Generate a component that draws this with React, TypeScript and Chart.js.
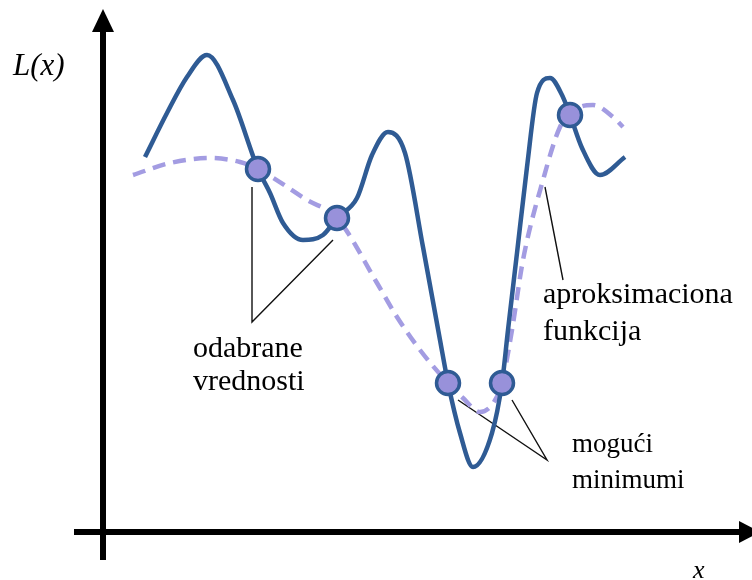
import React, { useEffect, useRef } from "react";
import { Chart, registerables } from "chart.js";

Chart.register(...registerables);

// Objective function L(x): sampled points (x, L) with origin at the axis crossing
const lossX = [42, 64, 84, 104, 130, 155, 167, 180, 200, 220, 234, 254, 269, 285, 302, 320, 337, 345, 357, 370, 389, 399, 405, 414, 424, 434, 447, 459, 467, 479, 497, 522];
const lossY = [375, 419, 455, 477, 432, 363, 339, 309, 292, 297, 314, 334, 377, 400, 379, 285, 192, 149, 99, 65, 99, 149, 202, 279, 365, 439, 454, 437, 417, 384, 357, 375];

// Approximating (surrogate) function
const approxX = [30, 67, 107, 137, 155, 204, 234, 274, 294, 317, 345, 360, 377, 391, 399, 409, 420, 440, 457, 467, 477, 490, 510, 520];
const approxY = [357, 369, 374, 370, 363, 332, 314, 249, 215, 182, 149, 134, 120, 130, 149, 202, 272, 352, 405, 417, 425, 427, 415, 405];

// Selected sample values
const sampleX = [155, 234, 345, 399, 467];
const sampleY = [363, 314, 149, 149, 417];

// Axis extents
const axisX = { min: -103, max: 649 };
const axisY = { min: -48, max: 532 };

// Labels
const labelSelected = ["odabrane", "vrednosti"];
const labelApprox = ["aproksimaciona", "funkcija"];
const labelMinima = ["mogući", "minimumi"];
const labelY = "L(x)";
const labelX = "x";

const SOLID = "#2f5b94";
const DASH = "#a39ce2";
const FILL = "#9891da";

const toPts = (xs: number[], ys: number[]) => xs.map((x, i) => ({ x, y: ys[i] }));

const overlay = {
  id: "diagramOverlay",
  beforeDatasetsDraw(chart: any) {
    const { ctx, scales } = chart;
    const X = (v: number) => scales.x.getPixelForValue(v);
    const Y = (v: number) => scales.y.getPixelForValue(v);
    ctx.save();
    // axes
    ctx.strokeStyle = "#000";
    ctx.fillStyle = "#000";
    ctx.lineWidth = 6;
    ctx.lineCap = "butt";
    ctx.beginPath();
    ctx.moveTo(X(0), Y(-28));
    ctx.lineTo(X(0), Y(502));
    ctx.moveTo(X(-29), Y(0));
    ctx.lineTo(X(637), Y(0));
    ctx.stroke();
    // arrow heads
    ctx.beginPath();
    ctx.moveTo(X(0), Y(523));
    ctx.lineTo(X(0) - 11, Y(500));
    ctx.lineTo(X(0) + 11, Y(500));
    ctx.closePath();
    ctx.fill();
    ctx.beginPath();
    ctx.moveTo(X(657), Y(0));
    ctx.lineTo(X(636), Y(0) - 11);
    ctx.lineTo(X(636), Y(0) + 11);
    ctx.closePath();
    ctx.fill();

    // leader lines
    ctx.lineWidth = 1.4;
    ctx.strokeStyle = "#111";
    ctx.beginPath();
    ctx.moveTo(X(149), Y(345));
    ctx.lineTo(X(149), Y(210));
    ctx.lineTo(X(230), Y(292));
    ctx.moveTo(X(355), Y(132));
    ctx.lineTo(X(444), Y(72));
    ctx.lineTo(X(409), Y(132));
    ctx.moveTo(X(442), Y(345));
    ctx.lineTo(X(460), Y(252));
    ctx.stroke();
    ctx.restore();
  },
  afterDatasetsDraw(chart: any) {
    const { ctx, scales } = chart;
    const X = (v: number) => scales.x.getPixelForValue(v);
    const Y = (v: number) => scales.y.getPixelForValue(v);
    const text = (s: string, x: number, y: number, font: string) => {
      ctx.save();
      ctx.font = font;
      ctx.fillStyle = "#000";
      ctx.textBaseline = "alphabetic";
      ctx.textAlign = "left";
      ctx.fillText(s, X(x), Y(y));
      ctx.restore();
    };
    const f = "30px 'Liberation Serif'";
    text(labelSelected[0], 90, 175, f);
    text(labelSelected[1], 90, 142, f);
    text(labelApprox[0], 440, 229, f);
    text(labelApprox[1], 440, 192, f);
    const fm = "27px 'Liberation Serif'";
    text(labelMinima[0], 469, 80, fm);
    text(labelMinima[1], 469, 44, fm);
    text(labelY, -90, 457, "italic 31px 'Liberation Serif'");
    text(labelX, 590, -46, "italic 26px 'Liberation Serif'");
  },
};

export default function App() {
  const ref = useRef<HTMLCanvasElement>(null);
  useEffect(() => {
    if (!ref.current) return;
    const chart = new Chart(ref.current, {
      type: "line",
      data: {
        datasets: [
          {
            label: "samples",
            data: toPts(sampleX, sampleY),
            showLine: false,
            pointRadius: 11.5,
            pointHoverRadius: 11.5,
            pointBackgroundColor: FILL,
            pointBorderColor: SOLID,
            pointBorderWidth: 3.5,
            order: 0,
          },
          {
            label: "L(x)",
            data: toPts(lossX, lossY),
            borderColor: SOLID,
            borderWidth: 4.5,
            pointRadius: 0,
            cubicInterpolationMode: "monotone",
            borderCapStyle: "butt",
            order: 1,
          },
          {
            label: "approx",
            data: toPts(approxX, approxY),
            borderColor: DASH,
            borderWidth: 4.5,
            borderDash: [13, 8],
            pointRadius: 0,
            cubicInterpolationMode: "monotone",
            order: 2,
          },
        ],
      },
      options: {
        animation: false,
        responsive: false,
        maintainAspectRatio: false,
        layout: { padding: 0, autoPadding: false },
        clip: false as any,
        plugins: { legend: { display: false }, tooltip: { enabled: false }, title: { display: false } },
        scales: {
          x: { type: "linear", min: axisX.min, max: axisX.max, display: false },
          y: { type: "linear", min: axisY.min, max: axisY.max, display: false },
        },
      },
      plugins: [overlay],
    });
    return () => chart.destroy();
  }, []);
  return (
    <div style={{ position: "absolute", left: 0, top: 0, width: 752, height: 580, background: "#fff" }}>
      <canvas ref={ref} width={752} height={580} style={{ display: "block" }} />
    </div>
  );
}
